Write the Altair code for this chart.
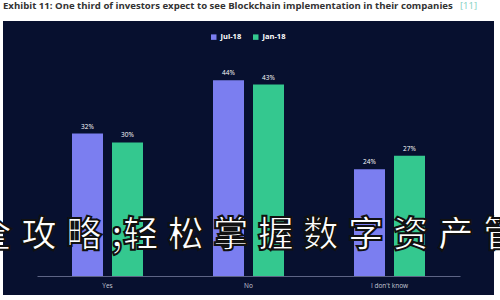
import altair as alt
import pandas as pd

categories = ["Yes", "No", "I don't know"]
series = ["Jul-18", "Jan-18"]
jul_18 = [32, 44, 24]
jan_18 = [30, 43, 27]
colors = ["#7b7ef0", "#34c88f"]
title_text = "Exhibit 11: One third of investors expect to see Blockchain implementation in their companies"
title_ref = "[11]"
overlay_text = "\u2005".join(["全", "攻", "略", ";轻", "松", "掌", "握", "数", "字", "资", "产", "管", "理"])

rows = []
for c, a, b in zip(categories, jul_18, jan_18):
    rows.append({"category": c, "series": series[0], "value": a, "label": f"{a}%"})
    rows.append({"category": c, "series": series[1], "value": b, "label": f"{b}%"})
df = pd.DataFrame(rows)

W, H = 423, 231
one = pd.DataFrame({"a": [0]})

panel = alt.Chart(one).mark_rect(color="#07102f").encode(
    x=alt.value(-34), x2=alt.value(457), y=alt.value(-24), y2=alt.value(250)
)

x = alt.X(
    "category:N", sort=categories,
    scale=alt.Scale(paddingInner=0, paddingOuter=0),
    axis=alt.Axis(title=None, labelAngle=0, ticks=False, domainColor="#5d6485",
                  labelColor="#c5c8d4", labelFontSize=6.5, labelPadding=6,
                  labelFont="Open Sans", zindex=1),
)
xo = alt.XOffset("series:N", sort=series,
                 scale=alt.Scale(paddingInner=0.225, paddingOuter=0.875))
y = alt.Y("value:Q", scale=alt.Scale(domain=[0, 51.9]), axis=None)
color = alt.Color(
    "series:N", sort=series,
    scale=alt.Scale(domain=series, range=colors),
    legend=alt.Legend(orient="none", legendX=173, legendY=-12, direction="horizontal",
                      title=None, symbolType="square", symbolSize=30,
                      labelColor="white", labelFontSize=7.5, labelFontWeight="bold",
                      labelFont="Open Sans", columnPadding=10, padding=0,
                      symbolStrokeWidth=0, labelOffset=3),
)

base = alt.Chart(df)
bars = base.mark_bar().encode(x=x, xOffset=xo, y=y, color=color)
labels = base.mark_text(color="white", fontSize=6.5, dy=-4, baseline="bottom",
                        font="Open Sans").encode(x=x, xOffset=xo, y=y, text="label:N")

title = alt.Chart(pd.DataFrame({"t": [title_text]})).mark_text(
    align="left", baseline="middle", fontSize=9.6, fontWeight="bold",
    font="Open Sans", color="#333333"
).encode(text="t:N", x=alt.value(-34), y=alt.value(-39))
ref = alt.Chart(pd.DataFrame({"t": [title_ref]})).mark_text(
    align="left", baseline="middle", fontSize=9.5, font="Open Sans", color="#7fd0c0"
).encode(text="t:N", x=alt.value(423), y=alt.value(-39))

overlay = alt.Chart(pd.DataFrame({"t": [overlay_text]})).mark_text(
    align="left", baseline="middle", fontSize=36, fontWeight="bold",
    font="Noto Sans CJK SC", color="white", stroke="#111111", strokeWidth=2
).encode(text="t:N", x=alt.value(-61), y=alt.value(191))

chart = alt.layer(panel, bars, labels, title, ref, overlay).properties(
    width=W, height=H, background="white",
    padding={"left": 37, "top": 45, "right": 40, "bottom": 24},
    autosize="none",
).configure_view(stroke=None)

chart.save("out.html", embed_options={"renderer": "svg", "actions": False})
